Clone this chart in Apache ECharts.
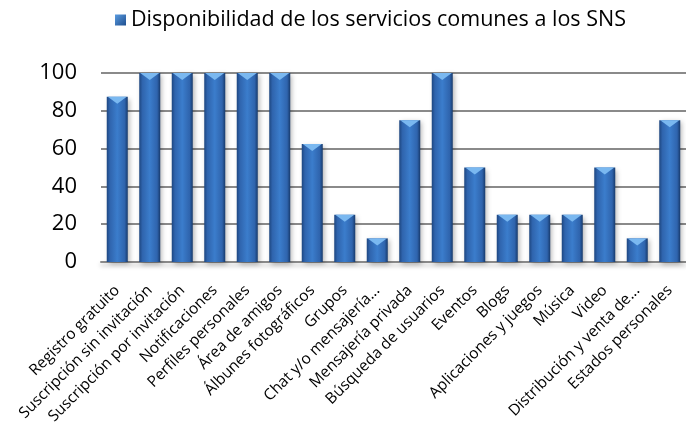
<!DOCTYPE html>
<html>
<head>
<meta charset="utf-8">
<script src="https://cdn.jsdelivr.net/npm/echarts@6/dist/echarts.min.js"></script>
<style>html,body{margin:0;padding:0;background:#fff}#c{width:686px;height:434px}</style>
</head>
<body>
<div id="c"></div>
<script>
const categories = ["Registro gratuito","Suscripción sin invitación","Suscripción por invitación","Notificaciones","Perfiles personales","Área de amigos","Álbunes fotográficos","Grupos","Chat y/o mensajería...","Mensajería privada","Búsqueda de usuarios","Eventos","Blogs","Aplicaciones y juegos","Música","Video","Distribución y venta de...","Estados personales"];
const values = [87.5,100,100,100,100,100,62.5,25,12.5,75,100,50,25,25,25,50,12.5,75];
const yTicks = [0,20,40,60,80,100];
const seriesName = "Disponibilidad de los servicios comunes a los SNS";

const FONT = '"Open Sans"';
const chart = echarts.init(document.getElementById('c'));
const barGrad = new echarts.graphic.LinearGradient(0,0,1,0,[
  {offset:0,color:'#1d4680'},
  {offset:0.15,color:'#2f64ad'},
  {offset:0.5,color:'#3b7dcc'},
  {offset:0.85,color:'#2f64ad'},
  {offset:1,color:'#173a6c'}
]);
chart.setOption({
  animation:false,
  textStyle:{fontFamily:FONT},
  legend:{
    top:4,left:110,itemWidth:11,itemHeight:11,itemGap:4,
    textStyle:{fontSize:21.5,color:'#000',fontFamily:FONT},
    data:[{name:seriesName,icon:'rect',itemStyle:{color:new echarts.graphic.LinearGradient(0,0,1,1,[{offset:0,color:'#5a9be0'},{offset:1,color:'#1f4f8f'}])}}]
  },
  grid:{left:101,top:73,width:590,height:189,containLabel:false},
  xAxis:{
    type:'category',data:categories,
    axisLine:{lineStyle:{color:'#8a8a8a',width:2,shadowColor:'rgba(0,0,0,0.25)',shadowBlur:4,shadowOffsetY:3}},
    axisTick:{show:false},
    axisLabel:{rotate:45,fontSize:15.5,color:'#000',margin:26,interval:0,fontFamily:FONT}
  },
  yAxis:{
    type:'value',min:0,max:100,interval:20,
    axisLine:{show:false},axisTick:{show:false},
    axisLabel:{fontSize:22,color:'#000',margin:24,fontFamily:FONT,
      formatter:v=>yTicks.includes(v)?String(v):''},
    splitLine:{lineStyle:{color:'#8a8a8a',width:2}}
  },
  series:[
    {name:seriesName,type:'bar',data:values,barWidth:21,
      itemStyle:{color:barGrad,shadowColor:'rgba(0,0,0,0.3)',shadowBlur:5,shadowOffsetX:2,shadowOffsetY:2},
      z:2},
    {name:'cap',type:'pictorialBar',data:values,symbol:'triangle',symbolRotate:180,
      symbolSize:[19,7],symbolPosition:'end',barGap:'-100%',
      itemStyle:{color:'#7ab8f0'},z:3,silent:true,legendHoverLink:false}
  ]
});
</script>
</body>
</html>
